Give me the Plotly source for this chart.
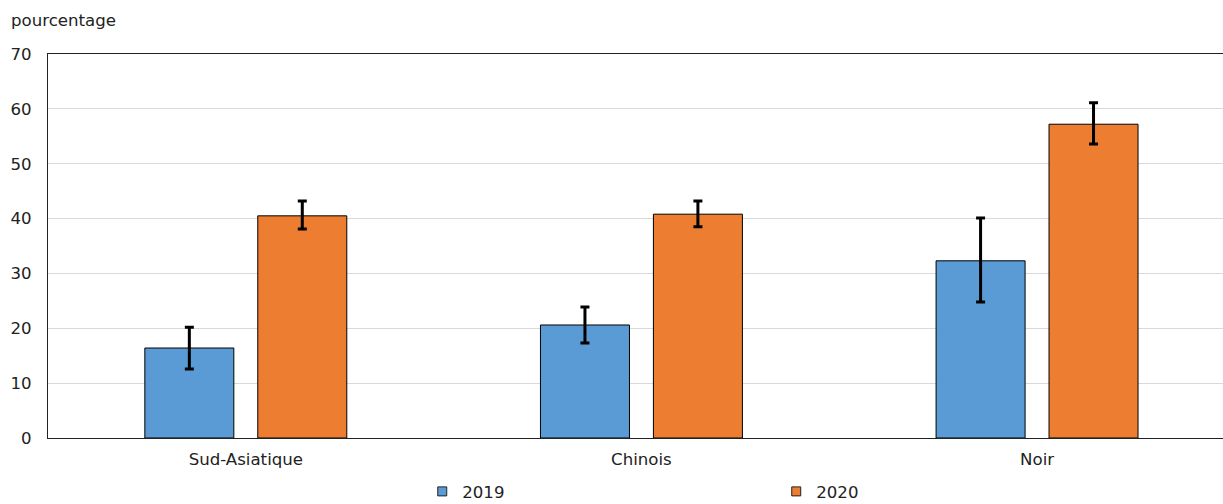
import plotly.graph_objects as go

categories = ["Sud-Asiatique", "Chinois", "Noir"]
series_names = ["2019", "2020"]
values_2019 = [16.4, 20.6, 32.3]
values_2020 = [40.5, 40.8, 57.2]
err_hi_2019 = [20.2, 23.9, 40.1]
err_lo_2019 = [12.6, 17.3, 24.8]
err_hi_2020 = [43.2, 43.2, 61.1]
err_lo_2020 = [38.1, 38.5, 53.6]
colors = ["#5B9BD5", "#ED7D31"]
FONT = "DejaVu Sans, Verdana, sans-serif"
FS = 16.6

fig = go.Figure()
for name, vals, hi, lo, col in [
    (series_names[0], values_2019, err_hi_2019, err_lo_2019, colors[0]),
    (series_names[1], values_2020, err_hi_2020, err_lo_2020, colors[1]),
]:
    fig.add_trace(go.Bar(
        x=categories, y=vals, name=name, showlegend=False,
        marker=dict(color=col, line=dict(color="#000000", width=1)),
        error_y=dict(type="data", symmetric=False,
                     array=[h - v for h, v in zip(hi, vals)],
                     arrayminus=[v - l for l, v in zip(lo, vals)],
                     color="#000000", thickness=3, width=4.5),
    ))
# legend entries (small square swatches)
for name, col in zip(series_names, colors):
    fig.add_trace(go.Scatter(
        x=[None], y=[None], mode="markers", name=name,
        marker=dict(symbol="square", size=9, color=col,
                    line=dict(color="#222222", width=1)),
    ))

fig.update_layout(
    width=1223, height=504,
    margin=dict(l=48, r=0, t=54, b=66, autoexpand=False),
    paper_bgcolor="white", plot_bgcolor="white",
    font=dict(family=FONT, size=FS, color="#222222"),
    barmode="group", bargap=0.429, bargroupgap=0.212,
    showlegend=True,
    legend=dict(orientation="h", x=0.3185, xanchor="left", y=-0.094, yanchor="top",
                entrywidth=309, entrywidthmode="pixels",
                font=dict(size=FS), itemwidth=30, traceorder="normal",
                tracegroupgap=0),
    annotations=[dict(text="pourcentage", xref="paper", yref="paper",
                      x=-0.033, y=1.0885, xanchor="left", yanchor="middle",
                      showarrow=False, font=dict(size=FS, color="#222222"))],
)
fig.update_xaxes(range=[-0.5, 2.47], showline=True, linecolor="#222222", linewidth=1,
                 mirror=True, showgrid=False, ticks="", tickfont=dict(size=FS),
                 ticklabelstandoff=6)
fig.update_yaxes(range=[0, 70], dtick=10, showline=True, linecolor="#222222", linewidth=1,
                 showgrid=True, gridcolor="#d9d9d9", gridwidth=1, ticks="",
                 ticklabelstandoff=12, tickfont=dict(size=FS), zeroline=False)

fig.write_html("out.html", config={"displayModeBar": False},
               post_script="document.body.style.margin='0';document.body.style.padding='0';")
